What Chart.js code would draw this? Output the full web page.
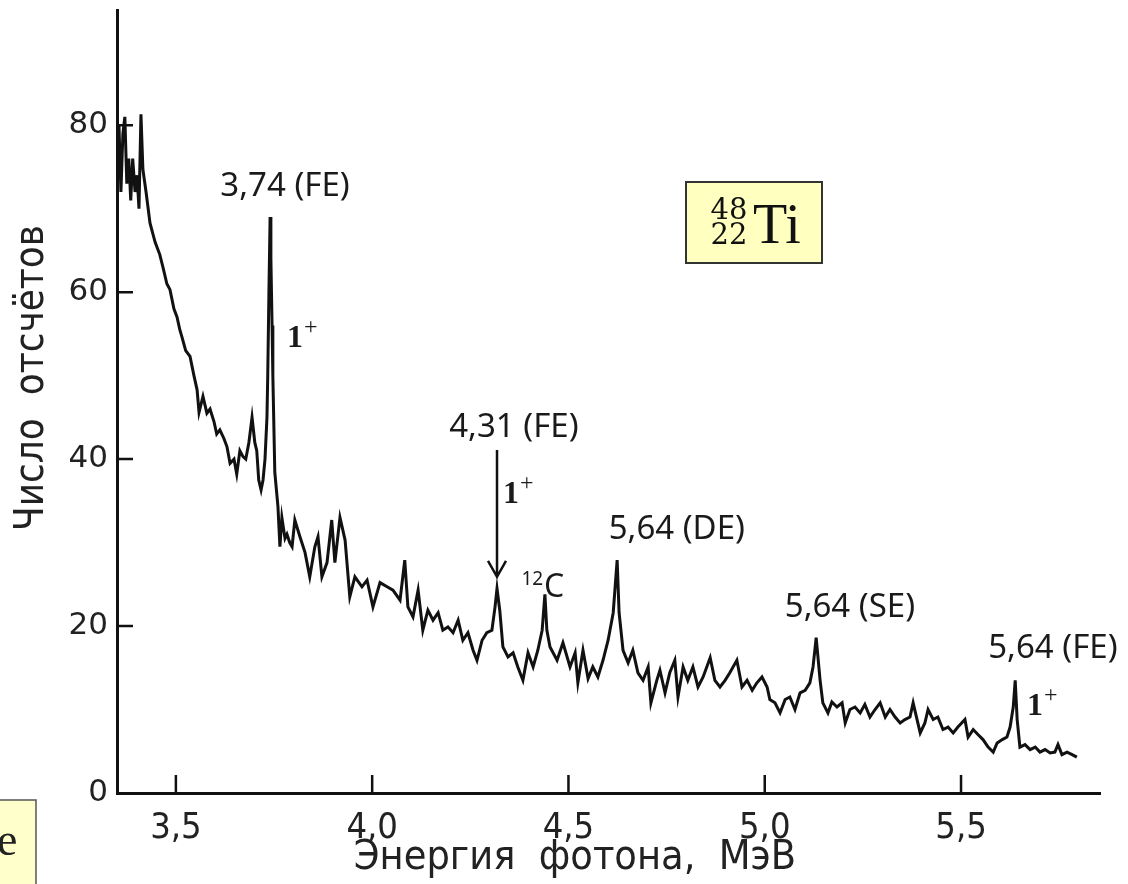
<!DOCTYPE html>
<html>
<head>
<meta charset="utf-8">
<script src="https://cdn.jsdelivr.net/npm/chart.js@4.4.0/dist/chart.umd.min.js"></script>
<style>
  html, body { margin: 0; padding: 0; background: #fff; overflow: hidden; }
  canvas { display: block; }
</style>
</head>
<body>
<canvas id="spectrum" width="1128" height="884"></canvas>
<script>
// photon energy, MeV
const energyMeV = [
  3.350, 3.355, 3.360, 3.365, 3.370, 3.375, 3.380, 3.385, 3.390, 3.396, 3.401, 3.406, 3.411, 3.416, 3.424,
  3.434, 3.447, 3.459, 3.467, 3.477, 3.485, 3.495, 3.503, 3.510, 3.515, 3.525, 3.536, 3.546, 3.554, 3.559,
  3.569, 3.579, 3.587, 3.597, 3.604, 3.612, 3.622, 3.630, 3.638, 3.648, 3.655, 3.663, 3.671, 3.678, 3.686,
  3.694, 3.701, 3.706, 3.711, 3.717, 3.722, 3.727, 3.732, 3.734, 3.737, 3.740, 3.742, 3.745, 3.747, 3.752,
  3.760, 3.765, 3.770, 3.778, 3.783, 3.790, 3.796, 3.803, 3.816, 3.829, 3.841, 3.854, 3.862, 3.872, 3.885,
  3.897, 3.905, 3.918, 3.931, 3.943, 3.956, 3.974, 3.987, 4.002, 4.020, 4.038, 4.053, 4.071, 4.083, 4.091,
  4.104, 4.117, 4.129, 4.142, 4.155, 4.168, 4.180, 4.193, 4.206, 4.219, 4.231, 4.244, 4.257, 4.267, 4.280,
  4.292, 4.305, 4.313, 4.318, 4.325, 4.333, 4.346, 4.359, 4.371, 4.384, 4.397, 4.410, 4.422, 4.433, 4.440,
  4.445, 4.453, 4.471, 4.486, 4.504, 4.517, 4.524, 4.537, 4.550, 4.562, 4.575, 4.588, 4.601, 4.614, 4.624,
  4.629, 4.639, 4.652, 4.664, 4.677, 4.690, 4.703, 4.710, 4.725, 4.733, 4.746, 4.758, 4.771, 4.779, 4.792,
  4.804, 4.817, 4.830, 4.843, 4.861, 4.873, 4.886, 4.899, 4.911, 4.929, 4.942, 4.955, 4.968, 4.980, 4.993,
  5.006, 5.013, 5.026, 5.039, 5.052, 5.064, 5.077, 5.090, 5.103, 5.115, 5.123, 5.131, 5.141, 5.148, 5.161,
  5.171, 5.184, 5.197, 5.205, 5.217, 5.230, 5.243, 5.255, 5.268, 5.281, 5.294, 5.307, 5.319, 5.332, 5.345,
  5.357, 5.370, 5.378, 5.388, 5.396, 5.408, 5.416, 5.429, 5.441, 5.454, 5.467, 5.480, 5.492, 5.510, 5.518,
  5.531, 5.543, 5.556, 5.569, 5.582, 5.592, 5.605, 5.617, 5.625, 5.633, 5.638, 5.643, 5.650, 5.663, 5.676,
  5.689, 5.701, 5.714, 5.727, 5.739, 5.747, 5.757, 5.770, 5.783, 5.795
];

// number of counts
const counts = [
  75, 80, 72, 79, 81, 73, 76, 71, 76, 72, 74, 70, 81.3, 74.7, 72,
  68.3, 66, 64.5, 63, 61, 60.3, 58, 57, 55.5, 54.7, 53, 52.3, 50, 48.3, 45.6,
  47.5, 45.5, 46, 44.5, 43, 43.5, 42.5, 41.5, 39.5, 40, 38.2, 41, 40.3, 40, 42,
  45, 42, 41, 37.5, 36.3, 37.5, 40, 45, 50, 60, 69, 64, 56, 50, 38.4,
  34.3, 29.5, 33, 30.5, 31, 30, 29.5, 32.7, 30.7, 28.8, 25.9, 29.5, 30.7, 25.9, 27.6,
  32.7, 27.6, 33, 30.3, 23.5, 25.9, 24.7, 25.5, 22.3, 25.2, 24.7, 24.3, 23.1, 27.9, 22.3,
  21.1, 24.3, 19.5, 21.9, 20.7, 21.6, 19.5, 19.9, 19.2, 20.7, 18.3, 19.2, 17.1, 15.9, 18.3,
  19.2, 19.5, 22.3, 24.5, 21.9, 17.5, 16.3, 16.8, 15.1, 13.5, 16.8, 15.1, 17.1, 19.5, 23.8,
  19.5, 17.5, 15.9, 18, 15.1, 16.8, 13.2, 17.1, 13.7, 15.1, 13.9, 15.9, 18.3, 21.6, 27.9,
  21.6, 17.1, 15.6, 17.1, 14.4, 13.5, 15.1, 10.8, 13.5, 14.7, 12, 14.4, 15.9, 11.5, 15.1,
  13.5, 15.1, 12.7, 13.9, 16.2, 13.5, 12.7, 13.5, 14.4, 15.9, 12.7, 13.5, 12.3, 13.2, 13.9,
  12.7, 11.2, 10.8, 9.6, 11.2, 11.5, 10, 12, 12.3, 13.2, 15.1, 18.6, 13.5, 10.8, 9.6,
  10.9, 10.3, 10.8, 8.4, 10, 10.3, 9.6, 10.6, 9.1, 10, 10.8, 9.1, 10, 9.1, 8.4,
  8.8, 9.1, 10.8, 8.8, 7.2, 8.4, 10, 8.8, 9.1, 7.6, 7.9, 7.2, 7.9, 8.8, 6.7,
  7.6, 7, 6.4, 5.5, 4.9, 6, 6.4, 6.7, 7.9, 10.3, 13.5, 8.8, 5.5, 5.8, 5.2,
  5.5, 4.9, 5.2, 4.8, 4.9, 5.8, 4.6, 4.9, 4.6, 4.3
];

const xTickValues = [3.5, 4.0, 4.5, 5.0, 5.5];
const xTickLabels = ['3,5', '4,0', '4,5', '5,0', '5,5'];
const yTickValues = [0, 20, 40, 60, 80];
const yTickLabels = ['0', '20', '40', '60', '80'];

const xTitle = 'Энергия  фотона,  МэВ';
const yTitle = 'Число  отсчётов';

// peak labels, anchored in data units (MeV, counts)
const peakNotes = [
  { text: '3,74 (FE)', x: 3.778, y: 72.7 },
  { text: '4,31 (FE)', x: 4.361, y: 43.8 },
  { text: '5,64 (DE)', x: 4.776, y: 31.5 },
  { text: '5,64 (SE)', x: 5.217, y: 22.2 },
  { text: '5,64 (FE)', x: 5.734, y: 17.3 }
];
const spinNotes = [
  { x: 3.783, y: 53.4 },
  { x: 4.333, y: 34.8 },
  { x: 5.668, y: 9.35 }
];

const points = energyMeV.map((e, i) => ({ x: e, y: counts[i] }));

const decorations = {
  id: 'decorations',
  afterDraw(chart) {
    const { ctx, scales: { x, y }, chartArea } = chart;
    const px = v => x.getPixelForValue(v);
    const py = v => y.getPixelForValue(v);
    ctx.save();

    // inward tick marks
    ctx.strokeStyle = '#111';
    ctx.lineWidth = 2.5;
    ctx.beginPath();
    xTickValues.forEach(v => {
      ctx.moveTo(px(v), chartArea.bottom);
      ctx.lineTo(px(v), chartArea.bottom - 18);
    });
    yTickValues.forEach(v => {
      if (v === 0) return;
      ctx.moveTo(chartArea.left, py(v));
      ctx.lineTo(chartArea.left + 16, py(v));
    });
    ctx.stroke();

    // axis titles
    ctx.fillStyle = '#222';
    ctx.textAlign = 'center';
    ctx.textBaseline = 'middle';
    ctx.font = '41px "DejaVu Sans Condensed"';
    ctx.fillText(xTitle, 575, 858);
    ctx.save();
    ctx.translate(33, 378);
    ctx.rotate(-Math.PI / 2);
    ctx.font = '40px "DejaVu Sans Condensed"';
    ctx.fillText(yTitle, 0, 0);
    ctx.restore();

    // peak labels
    ctx.fillStyle = '#1a1a1a';
    ctx.font = '33px "Noto Sans"';
    peakNotes.forEach(n => ctx.fillText(n.text, px(n.x), py(n.y)));

    // spin-parity 1+
    ctx.textAlign = 'left';
    ctx.textBaseline = 'alphabetic';
    spinNotes.forEach(n => {
      ctx.font = 'bold 32px "Liberation Serif"';
      ctx.fillText('1', px(n.x), py(n.y));
      const w = ctx.measureText('1').width;
      ctx.font = '24px "Liberation Serif"';
      ctx.fillText('+', px(n.x) + w + 1, py(n.y) - 13);
    });

    // 12C label
    ctx.font = '32px "Noto Sans"';
    ctx.fillText('C', px(4.438), py(23.5));
    ctx.textAlign = 'right';
    ctx.font = '19px "Noto Sans"';
    ctx.fillText('12', px(4.438) - 1, py(23.5) - 12);

    // arrow to 4,31 peak
    const ax = px(4.318), ay0 = py(41.1), ay1 = py(25.9);
    ctx.strokeStyle = '#111';
    ctx.lineWidth = 2.5;
    ctx.beginPath();
    ctx.moveTo(ax, ay0);
    ctx.lineTo(ax, ay1);
    ctx.moveTo(ax - 9, ay1 - 16);
    ctx.lineTo(ax, ay1);
    ctx.lineTo(ax + 9, ay1 - 16);
    ctx.stroke();

    // nuclide box
    ctx.fillStyle = '#ffffbf';
    ctx.fillRect(686, 182, 136, 81);
    ctx.strokeStyle = '#333';
    ctx.lineWidth = 2;
    ctx.strokeRect(686, 182, 136, 81);
    ctx.fillStyle = '#111';
    ctx.textAlign = 'center';
    ctx.font = '29px "DejaVu Serif"';
    ctx.fillText('48', 729, 219);
    ctx.fillText('22', 729, 244);
    ctx.textAlign = 'left';
    ctx.font = '56px "Liberation Serif"';
    ctx.fillText('Ti', 753, 243);

    // clipped box at lower left
    ctx.fillStyle = '#ffffcc';
    ctx.fillRect(-2, 800, 38, 90);
    ctx.strokeStyle = '#555';
    ctx.lineWidth = 1.5;
    ctx.strokeRect(-2, 800, 38, 90);
    ctx.fillStyle = '#222';
    ctx.font = '46px "Liberation Serif"';
    ctx.fillText('e', -3, 855);

    ctx.restore();
  }
};

new Chart(document.getElementById('spectrum'), {
  type: 'line',
  data: {
    datasets: [{
      data: points,
      borderColor: '#111',
      borderWidth: 3,
      pointRadius: 0,
      tension: 0,
      fill: false
    }]
  },
  options: {
    responsive: false,
    animation: false,
    layout: { padding: { top: 10, right: 28, left: 0, bottom: 0 } },
    plugins: { legend: { display: false }, tooltip: { enabled: false } },
    scales: {
      x: {
        type: 'linear',
        min: 3.35,
        max: 5.854,
        afterFit: s => { s.height = 91; s.paddingLeft = 0; s.paddingRight = 0; },
        afterBuildTicks: s => { s.ticks = xTickValues.map(v => ({ value: v })); },
        ticks: {
          callback: (v, i) => xTickLabels[i],
          font: { family: 'DejaVu Sans Condensed', size: 36 },
          color: '#222',
          padding: 14,
          maxRotation: 0,
          autoSkip: false
        },
        grid: { display: false, drawTicks: false },
        border: { display: true, width: 3, color: '#111' }
      },
      y: {
        min: 0,
        max: 93.8,
        afterFit: s => { s.width = 117; s.paddingTop = 0; s.paddingBottom = 0; },
        afterBuildTicks: s => { s.ticks = yTickValues.map(v => ({ value: v })); },
        ticks: {
          callback: (v, i) => yTickLabels[i],
          font: { family: 'DejaVu Sans', size: 31 },
          color: '#222',
          padding: 9,
          autoSkip: false
        },
        grid: { display: false, drawTicks: false },
        border: { display: true, width: 3, color: '#111' }
      }
    }
  },
  plugins: [decorations]
});
</script>
</body>
</html>
